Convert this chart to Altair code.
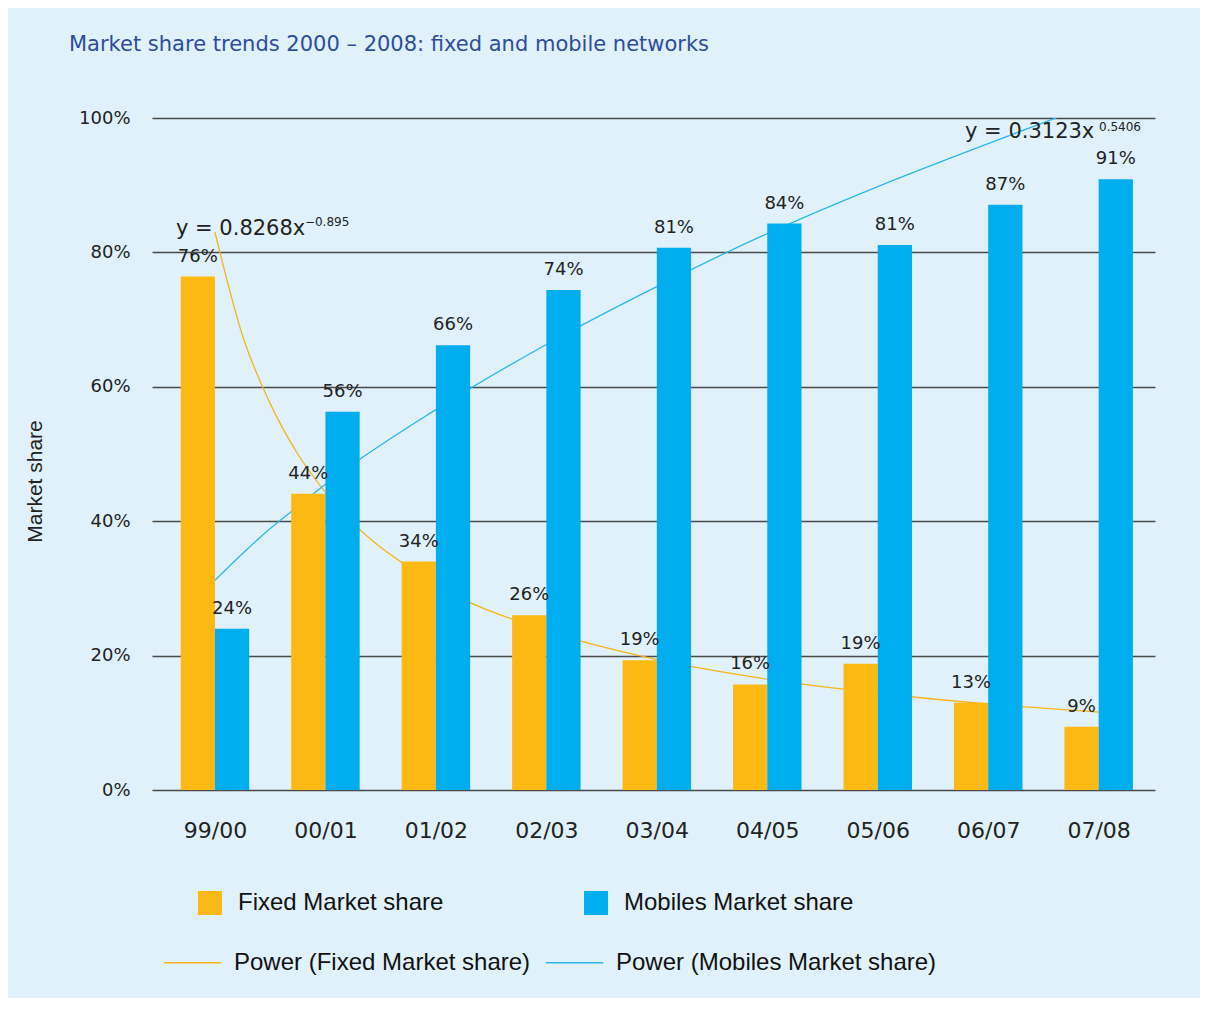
import altair as alt
import pandas as pd

# ---------------- data ----------------
categories = ["99/00", "00/01", "01/02", "02/03", "03/04", "04/05", "05/06", "06/07", "07/08"]
fixed_share = [0.764, 0.441, 0.340, 0.260, 0.193, 0.157, 0.188, 0.130, 0.094]
mobile_share = [0.240, 0.563, 0.662, 0.744, 0.807, 0.843, 0.811, 0.871, 0.909]

bar_series = ["Fixed Market share", "Mobiles Market share"]
bar_colors = ["#FDB913", "#00AEEF"]

# trend curves (position in category units, share)
trend_pos = [1, 1.25, 1.5, 1.75, 2, 3, 4, 5, 6, 7, 8, 9]
fixed_trend = [0.830, 0.676, 0.575, 0.500, 0.443, 0.306, 0.237, 0.194, 0.165, 0.144, 0.128, 0.116]
mobile_trend = [0.312, 0.352, 0.389, 0.422, 0.455, 0.566, 0.663, 0.749, 0.828, 0.898, 0.962, 1.024]
trend_series = ["Power (Fixed Market share)", "Power (Mobiles Market share)"]
trend_colors = ["#F7B31C", "#2CB6EC"]

eq_text = ["y = 0.8268x", "\u22120.895", "y = 0.3123x", "0.5406"]
eq_pos = [0.647, 1.814, 7.79, 9.003]
eq_value = [0.835, 0.845, 0.979, 0.986]
eq_size = [21, 12, 21, 12]

title_text = "Market share trends 2000 \u2013 2008: fixed and mobile networks"

# ---------------- tables ----------------
bars = pd.DataFrame({
    "idx": list(range(1, 10)) * 2,
    "cat": categories * 2,
    "series": [bar_series[0]] * 9 + [bar_series[1]] * 9,
    "side": [-1] * 9 + [0] * 9,
    "value": fixed_share + mobile_share,
})
trend = pd.DataFrame({
    "pos": trend_pos * 2,
    "series": [trend_series[0]] * len(trend_pos) + [trend_series[1]] * len(trend_pos),
    "value": fixed_trend + mobile_trend,
})
eqs = pd.DataFrame({"text": eq_text, "pos": eq_pos, "value": eq_value, "size": eq_size})

BW = 0.31
label_expr = "[" + ",".join("'%s'" % c for c in categories) + "][datum.value - 1]"

xscale = alt.Scale(domain=[0.43, 9.51], nice=False, zero=False)
yscale = alt.Scale(domain=[0, 1], nice=False)

x_axis = alt.Axis(values=list(range(1, 10)), labelExpr=label_expr, grid=False, ticks=False,
                  domain=False, title=None, labelFont="DejaVu Sans", labelFontSize=22,
                  labelColor="#222222", labelPadding=30)
y_axis = alt.Axis(values=[0, 0.2, 0.4, 0.6, 0.8, 1.0], format=".0%", grid=True,
                  gridColor="#4a4a4a", gridWidth=1.6, ticks=False, domain=False,
                  labelFont="DejaVu Sans", labelFontSize=18, labelColor="#222222",
                  labelPadding=22, title="Market share", titleFont="Liberation Sans",
                  titleFontSize=21, titleFontWeight="normal", titleColor="#222222",
                  titleX=-117, titleY=363, titleAngle=270, titleAlign="center",
                  titleBaseline="middle")

lines = alt.Chart(trend).mark_line(strokeWidth=1.3, clip=True, interpolate="monotone").encode(
    x=alt.X("pos:Q", scale=xscale, axis=x_axis),
    y=alt.Y("value:Q", scale=yscale, axis=y_axis),
    stroke=alt.Stroke("series:N", scale=alt.Scale(domain=trend_series, range=trend_colors),
                      legend=alt.Legend(title=None, orient="none", legendX=11, legendY=815,
                                        direction="horizontal", columns=2, columnPadding=12,
                                        symbolType="stroke", symbolSize=3300,
                                        symbolStrokeWidth=1.3, labelFont="Liberation Sans",
                                        labelFontSize=24, labelColor="#111111",
                                        labelOffset=12, labelLimit=600, padding=0)),
)

bar = alt.Chart(bars).transform_calculate(
    x0="datum.idx + datum.side * %f" % BW,
    x1="datum.idx + datum.side * %f + %f" % (BW, BW),
).mark_bar().encode(
    x=alt.X("x0:Q", scale=xscale, axis=x_axis),
    x2="x1:Q",
    y=alt.Y("value:Q", scale=yscale, axis=y_axis),
    y2=alt.datum(0),
    fill=alt.Fill("series:N", scale=alt.Scale(domain=bar_series, range=bar_colors),
                  legend=alt.Legend(title=None, orient="none", legendX=46, legendY=773,
                                    direction="horizontal", columns=2, columnPadding=140,
                                    symbolType="square", symbolSize=576,
                                    symbolStrokeWidth=0, labelFont="Liberation Sans",
                                    labelFontSize=24, labelColor="#111111",
                                    labelOffset=16, labelLimit=600, padding=0)),
)

labels = alt.Chart(bars).transform_calculate(
    xc="datum.idx + datum.side * %f + %f" % (BW, BW / 2),
).mark_text(font="DejaVu Sans", fontSize=18, color="#222222", baseline="bottom",
            align="center", dy=-11).encode(
    x=alt.X("xc:Q", scale=xscale, axis=x_axis),
    y=alt.Y("value:Q", scale=yscale, axis=y_axis),
    text=alt.Text("value:Q", format=".0%"),
)

eq = alt.Chart(eqs).mark_text(font="DejaVu Sans", color="#222222", align="left",
                              baseline="middle").encode(
    x=alt.X("pos:Q", scale=xscale, axis=x_axis),
    y=alt.Y("value:Q", scale=yscale, axis=y_axis),
    text="text:N",
    size=alt.Size("size:Q", scale=None, legend=None),
)

chart = alt.layer(lines, bar, labels, eq).properties(
    width=1003, height=672,
    autosize=alt.AutoSizeParams(type="none"),
    padding={"left": 144, "top": 110, "right": 45, "bottom": 208},
    title=alt.TitleParams(title_text, anchor="start", frame="group", dx=-83,
                          font="DejaVu Sans", fontSize=21, fontWeight="normal",
                          color="#2E4C9B", offset=54),
    background="#E0F1FB",
).configure_view(stroke=None)

chart.save("out.html", embed_options={"renderer": "svg", "actions": False})
